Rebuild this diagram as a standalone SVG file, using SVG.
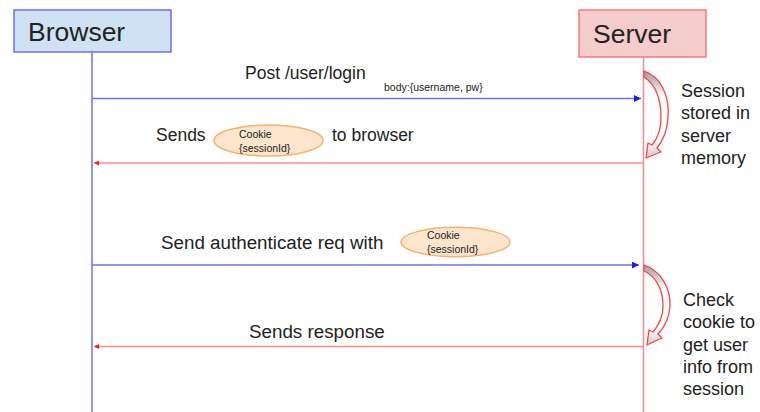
<svg xmlns="http://www.w3.org/2000/svg" width="760" height="412" viewBox="0 0 760 412">
<defs>
<style>
text{font-family:"Liberation Sans",Arial,sans-serif;fill:#222}
.title{font-size:26.5px}
.msg{font-size:17.5px}
.msg2{font-size:18.8px}
.note{font-size:18px}
.small{font-size:10.5px}
.blue{stroke:#6f6fff;stroke-width:1.5;fill:none}
.red{stroke:#ff8a8a;stroke-width:1.5;fill:none}
.cookie{fill:#fce5cd;stroke:#f6b26b;stroke-width:1.5}
.curve{fill:url(#cg);stroke:#ff4040;stroke-width:1.3;stroke-linejoin:round}
</style>
<linearGradient id="cg" x1="0" y1="0" x2="0" y2="1">
<stop offset="0" stop-color="#9a9a9a"/>
<stop offset="0.3" stop-color="#ffffff"/>
<stop offset="0.8" stop-color="#ffffff"/>
<stop offset="1" stop-color="#c8c8c8"/>
</linearGradient>
<marker id="ab" markerUnits="userSpaceOnUse" markerWidth="8" markerHeight="8" refX="7" refY="3.5" orient="auto"><path d="M0,0 L7,3.5 L0,7 Z" fill="#1a1aff"/></marker>
<marker id="ar" markerUnits="userSpaceOnUse" markerWidth="8" markerHeight="8" refX="5" refY="2.5" orient="auto"><path d="M0,0 L5,2.5 L0,5 Z" fill="#ff1a1a"/></marker>
</defs>
<rect width="760" height="412" fill="#ffffff"/>
<g id="browser">
<rect x="14" y="10" width="157" height="42" fill="#cfe2f3" stroke="#6d6dff" stroke-width="1.5"/>
<text class="title" x="28" y="41">Browser</text>
<line class="blue" x1="92" y1="52" x2="92" y2="412" stroke="#8080ff"/>
</g>
<g id="server">
<rect x="579" y="10" width="127" height="47" fill="#f4cccc" stroke="#ff7777" stroke-width="1.5"/>
<text class="title" x="593" y="43">Server</text>
<line class="red" x1="643.5" y1="57" x2="643.5" y2="412"/>
</g>
<g id="connectors">
<line class="blue" x1="92" y1="98.5" x2="641" y2="98.5" marker-end="url(#ab)"/>
<line class="red" x1="643" y1="163" x2="94" y2="163" marker-end="url(#ar)"/>
<line class="blue" x1="92" y1="265" x2="639" y2="265" marker-end="url(#ab)"/>
<line class="red" x1="643" y1="346.5" x2="94" y2="346.5" marker-end="url(#ar)"/>
<path class="curve" d="M644,71 C660,76 670,95 668,118 C667,132 662,142 657,148 L661,152 L646,158 L648,143 L652,145 C657,139 661,130 661,118 C661,98 655,84 644,77 Z"/>
<path class="curve" d="M644,265 C660,270 671,288 670,306 C669,320 663,329 658,334 L662,338 L647,345 L649,330 L653,332 C658,326 663,318 663,306 C663,288 655,276 644,271 Z"/>
</g>
<g id="labels">
<text class="msg" x="245" y="79">Post /user/login</text>
<text class="small" x="384" y="91">body:{username, pw}</text>
<text class="msg" x="156" y="141">Sends</text>
<text class="msg" x="332" y="141">to browser</text>
<text class="msg2" x="161" y="249">Send authenticate req with</text>
<text class="msg2" x="249" y="338">Sends response</text>
</g>
<g id="cookie1">
<ellipse class="cookie" cx="268.5" cy="140.5" rx="54.5" ry="15.5"/>
<text class="small" x="239" y="137.5">Cookie</text>
<text class="small" x="239" y="151.5">{sessionId}</text>
</g>
<g id="cookie2">
<ellipse class="cookie" cx="455.5" cy="242" rx="54.5" ry="14.7"/>
<text class="small" x="427" y="239">Cookie</text>
<text class="small" x="427" y="252.5">{sessionId}</text>
</g>
<g id="note1">
<text class="note" x="681" y="97">Session</text>
<text class="note" x="681" y="119">stored in</text>
<text class="note" x="681" y="141.5">server</text>
<text class="note" x="681" y="164">memory</text>
</g>
<g id="note2">
<text class="note" x="683" y="306">Check</text>
<text class="note" x="683" y="328">cookie to</text>
<text class="note" x="683" y="350.5">get user</text>
<text class="note" x="683" y="372.5">info from</text>
<text class="note" x="683" y="394.5">session</text>
</g>
</svg>
